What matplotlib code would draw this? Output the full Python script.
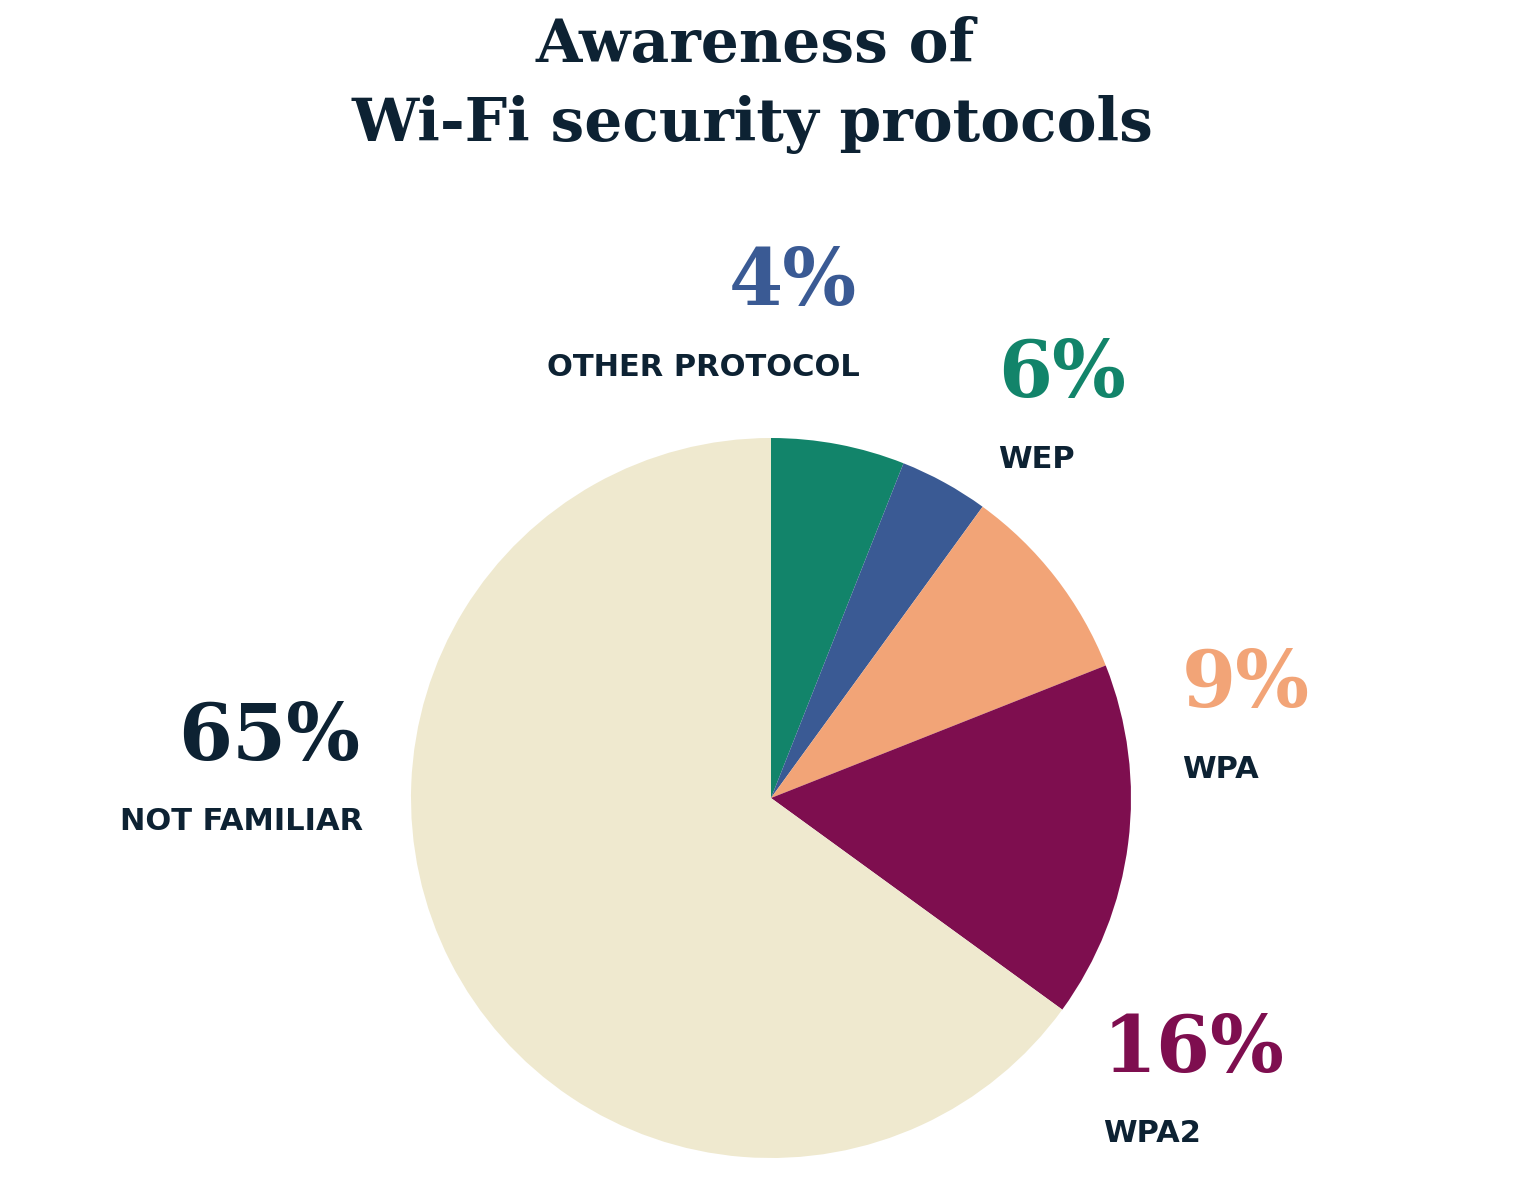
import matplotlib
matplotlib.use("Agg")
import matplotlib.pyplot as plt

# data, clockwise from 12 o'clock
labels = ["WEP", "OTHER PROTOCOL", "WPA", "WPA2", "NOT FAMILIAR"]
values = [6, 4, 9, 16, 65]
colors = ["#12846a", "#3a5a94", "#f2a477", "#7e0e4f", "#efe9cf"]
pct_colors = ["#12846a", "#3a5a94", "#f2a477", "#7e0e4f", "#0d2233"]

# label positions in pixels (x, y of percent text, horizontal alignment)
label_pos = [(998, 375, "left"), (857, 283, "right"), (1182, 685, "left"),
             (1103, 1050, "left"), (360, 738, "right")]

W, H = 1540, 1200
navy = "#0d2233"
fig = plt.figure(figsize=(W / 100, H / 100), dpi=100)
fig.patch.set_facecolor("white")

cx, cy, r = 771, 798, 360
ax = fig.add_axes([(cx - r) / W, (H - cy - r) / H, 2 * r / W, 2 * r / H])
ax.pie(values, colors=colors, startangle=90, counterclock=False, radius=1,
       wedgeprops=dict(linewidth=0))
ax.set_xlim(-1, 1)
ax.set_ylim(-1, 1)
ax.set_aspect("equal")
ax.axis("off")

def fx(px):
    return px / W

def fy(py):
    return 1 - py / H

fig.text(fx(755), fy(45), "Awareness of", ha="center", va="center",
         fontsize=43, family="DejaVu Serif", weight="bold", color=navy)
fig.text(fx(752), fy(125), "Wi-Fi security protocols", ha="center", va="center",
         fontsize=43, family="DejaVu Serif", weight="bold", color=navy)

for lab, v, c, (x, y, ha) in zip(labels, values, pct_colors, label_pos):
    fig.text(fx(x), fy(y), f"{v}%", ha=ha, va="center", fontsize=56,
             family="DejaVu Serif", weight="bold", color=c)
    fig.text(fx(x + (3 if ha == "right" else 0)), fy(y + 84), lab, ha=ha,
             va="center", fontsize=22, family="DejaVu Sans", weight="bold",
             color=navy)

fig.savefig("out.png", dpi=100, facecolor="white")
